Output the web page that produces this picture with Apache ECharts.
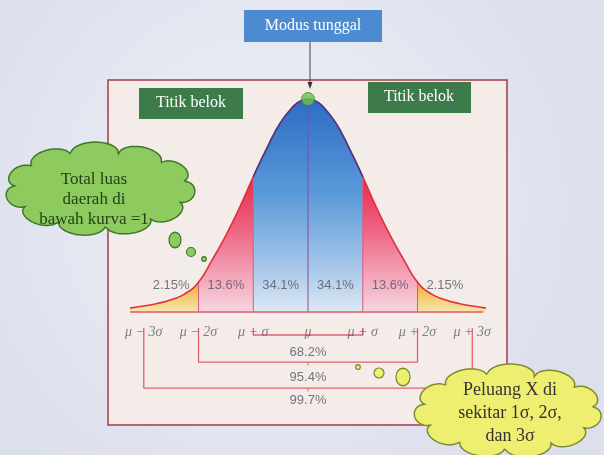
<!DOCTYPE html>
<html>
<head>
<meta charset="utf-8">
<script src="https://cdn.jsdelivr.net/npm/echarts@6/dist/echarts.min.js"></script>
<style>
  html, body { margin: 0; padding: 0; }
  #chart { width: 604px; height: 455px; }
</style>
</head>
<body>
<div id="chart"></div>
<script>
// curve heights (peak = 100), in units of sigma from the mean
const zs = [-3.25, -3, -2.75, -2.5, -2.25, -2, -1.75, -1.5, -1.25, -1, -0.75, -0.5, -0.25, -0.125, 0,
  0.125, 0.25, 0.5, 0.75, 1, 1.25, 1.5, 1.75, 2, 2.25, 2.5, 2.75, 3, 3.25];
const heights = [1.8, 2.8, 4, 5.8, 8.5, 14, 24.5, 36, 49, 63.5, 77, 89, 97, 99.2, 100,
  99.2, 97, 89, 77, 63.5, 49, 36, 24.5, 14, 8.5, 5.8, 4, 2.8, 1.8];

const sigmaTicks = [-3, -2, -1, 0, 1, 2, 3];
const tickLabels = ["μ − 3σ", "μ − 2σ", "μ − σ", "μ", "μ + σ", "μ + 2σ", "μ + 3σ"];
const regionLabels = ["2.15%", "13.6%", "34.1%", "34.1%", "13.6%", "2.15%"];
const bracketSigmas = [1, 2, 3];
const bracketLabels = ["68.2%", "95.4%", "99.7%"];
const axisSpan = [-3.25, 3.2];

// layout (data units on the y axis)
const regionLabelY = 12.7;
const tickLabelY = -9.4;
const bracketTop = -7.5;
const bracketLineY = [-10.8, -23.5, -35.7];
const bracketTextY = [-18.8, -30.5, -41.5];

const hAt = (z) => heights[zs.indexOf(z)];
const pts = zs.map((z, i) => [z, heights[i]]);
const seg = (a, b) => pts.filter((p) => p[0] >= a - 1e-9 && p[0] <= b + 1e-9);

const grad = (y0, y1, stops) => ({
  type: "linear", x: 0, y: y0, x2: 0, y2: y1, global: true,
  colorStops: stops.map((s) => ({ offset: s[0], color: s[1] })),
});
const blueFill = grad(99, 312, [[0, "#2c6cc6"], [0.45, "#5b9ad9"], [0.8, "#a9c9ea"], [1, "#dde8f4"]]);
const pinkFill = grad(172, 312, [[0, "#e6243f"], [0.4, "#ee6281"], [0.8, "#f4afc2"], [1, "#f7d6df"]]);
const yellowFill = grad(278, 312, [[0, "#f0a128"], [0.5, "#f4c565"], [1, "#f8e7b0"]]);

// scalloped outline for the thought clouds
function cloud(cx, cy, rx, ry, n, bump, phase) {
  const out = [];
  const N = 360;
  for (let i = 0; i < N; i++) {
    const t = phase + (2 * Math.PI * i) / N;
    const u = ((n * i) / N) % 1;
    const off = bump * Math.sqrt(Math.max(0, 1 - (2 * u - 1) * (2 * u - 1)));
    out.push([cx + (rx + off) * Math.cos(t), cy + (ry + off) * Math.sin(t)]);
  }
  return out;
}

const myChart = echarts.init(document.getElementById("chart"));
const serif = "'Liberation Serif', 'DejaVu Serif', serif";

const series = [];
[[-3.25, -2, yellowFill], [-2, -1, pinkFill], [-1, 1, blueFill], [1, 2, pinkFill], [2, 3.25, yellowFill]].forEach((s) => {
  series.push({
    type: "line", data: seg(s[0], s[1]), smooth: 0.5, symbol: "none", z: 2,
    lineStyle: { width: 0 }, areaStyle: { color: s[2], opacity: 1 },
  });
});
[-2, -1, 1, 2].forEach((b) => {
  series.push({
    type: "line", data: [[b, 0], [b, hAt(b)]], symbol: "none", z: 3,
    lineStyle: { color: "#cf5c86", width: 1 },
  });
});
series.push({
  type: "line", data: [[0, 0], [0, hAt(0)]], symbol: "none", z: 3,
  lineStyle: { color: "#8a4c9c", width: 1 },
});
series.push({
  type: "line", data: pts, smooth: 0.5, symbol: "none", z: 4,
  lineStyle: { color: "#e0303e", width: 1.6 },
});
series.push({
  type: "line", data: seg(-1, 1), smooth: 0.5, symbol: "none", z: 4,
  lineStyle: { color: "#3a3f8e", width: 1.6 },
});
series.push({
  type: "line", data: [[axisSpan[0], 0], [axisSpan[1], 0]], symbol: "none", z: 4,
  lineStyle: { color: "#e25a6a", width: 1.5 },
});
bracketSigmas.forEach((k, i) => {
  series.push({
    type: "line", symbol: "none", z: 4,
    data: [[-k, bracketTop], [-k, bracketLineY[i]], [k, bracketLineY[i]], [k, bracketTop]],
    lineStyle: { color: "#e2606e", width: 1.3 },
  });
  series.push({
    type: "line", symbol: "none", z: 4,
    data: [[0, bracketLineY[i]], [0, bracketLineY[i] - 1.6]],
    lineStyle: { color: "#e2606e", width: 1 },
  });
});
series.push({
  type: "scatter", symbolSize: 0, z: 5,
  data: tickLabels.map((t, i) => ({ value: [sigmaTicks[i], tickLabelY], name: t })),
  label: {
    show: true, position: "inside", formatter: "{b}",
    color: "#62626e", fontSize: 14, fontStyle: "italic", fontFamily: serif,
  },
});
series.push({
  type: "scatter", symbolSize: 0, z: 5,
  data: bracketLabels.map((t, i) => ({ value: [0, bracketTextY[i]], name: t })),
  label: {
    show: true, position: "inside", formatter: "{b}",
    color: "#555561", fontSize: 13, fontFamily: "Liberation Sans",
  },
});
series.push({
  type: "scatter", symbolSize: 0, z: 5,
  data: regionLabels.map((t, i) => ({ value: [(sigmaTicks[i] + sigmaTicks[i + 1]) / 2, regionLabelY], name: t })),
  label: {
    show: true, position: "inside", formatter: "{b}",
    color: "#555561", fontSize: 13, fontFamily: "Liberation Sans",
  },
});
series.push({
  type: "scatter", symbolSize: 13, z: 6, clip: false,
  data: [[0, hAt(0)]],
  itemStyle: { color: "#6cc24c", borderColor: "#3f8a2e", borderWidth: 1 },
});

const bubble = (cx, cy, r, sy, fill, stroke) => ({
  type: "circle", z: 100, x: cx, y: cy, scaleY: sy,
  shape: { cx: 0, cy: 0, r: r },
  style: { fill: fill, stroke: stroke, lineWidth: 1.2 },
});

const option = {
  animation: false,
  grid: { left: 116.4, right: 104.35, top: 77.7, bottom: 36.5 },
  xAxis: { type: "value", min: -3.5, max: 3.5, show: false },
  yAxis: { type: "value", min: -50, max: 110, show: false },
  graphic: [
    {
      type: "rect", z: -100, silent: true,
      shape: { x: 0, y: 0, width: 604, height: 455 },
      style: {
        fill: {
          type: "radial", x: 0.45, y: 0.45, r: 0.75,
          colorStops: [{ offset: 0, color: "#eff0f7" }, { offset: 1, color: "#dcdfec" }],
        },
      },
    },
    {
      type: "rect", z: -90, silent: true,
      shape: { x: 108, y: 80, width: 399, height: 345 },
      style: { fill: "#f3ece9", stroke: "#a33b4b", lineWidth: 1.5 },
    },
    {
      type: "rect", z: 10,
      shape: { x: 244, y: 10, width: 138, height: 32 },
      style: { fill: "#4d8bd0" },
    },
    {
      type: "text", z: 11, x: 313, y: 26,
      style: { text: "Modus tunggal", fill: "#fff", font: "16px " + serif, align: "center", verticalAlign: "middle" },
    },
    {
      type: "line", z: 10,
      shape: { x1: 310, y1: 42, x2: 310, y2: 86 },
      style: { stroke: "#444", lineWidth: 1 },
    },
    {
      type: "polygon", z: 10,
      shape: { points: [[307.5, 82], [312.5, 82], [310, 89]] },
      style: { fill: "#333" },
    },
    {
      type: "rect", z: 10,
      shape: { x: 139, y: 88, width: 104, height: 31 },
      style: { fill: "#3e7b4b" },
    },
    {
      type: "text", z: 11, x: 191, y: 103,
      style: { text: "Titik belok", fill: "#fff", font: "16px " + serif, align: "center", verticalAlign: "middle" },
    },
    {
      type: "rect", z: 10,
      shape: { x: 368, y: 82, width: 103, height: 31 },
      style: { fill: "#3e7b4b" },
    },
    {
      type: "text", z: 11, x: 419, y: 97,
      style: { text: "Titik belok", fill: "#fff", font: "16px " + serif, align: "center", verticalAlign: "middle" },
    },
    // green cloud
    {
      type: "polygon", z: 100,
      shape: { points: cloud(100, 189, 84, 36, 11, 11, -1.35) },
      style: { fill: "#8dcb5f", stroke: "#3f762b", lineWidth: 1.5 },
    },
    {
      type: "text", z: 101, x: 94, y: 200,
      style: {
        text: "Total luas\ndaerah di\nbawah kurva =1", fill: "#22401a", font: "17px " + serif,
        align: "center", verticalAlign: "middle", lineHeight: 20,
      },
    },
    bubble(175, 240, 6, 1.3, "#8dcb5f", "#3f762b"),
    bubble(191, 252, 4.5, 1, "#8dcb5f", "#3f762b"),
    bubble(204, 259, 2.3, 1, "#8dcb5f", "#3f762b"),
    // yellow cloud
    {
      type: "polygon", z: 100,
      shape: { points: cloud(508, 411, 83, 36, 11, 11, -1.25) },
      style: { fill: "#eeee70", stroke: "#7e8a30", lineWidth: 1.5 },
    },
    {
      type: "text", z: 101, x: 510, y: 413,
      style: {
        text: "Peluang X di\nsekitar 1σ, 2σ,\ndan 3σ", fill: "#333", font: "18px " + serif,
        align: "center", verticalAlign: "middle", lineHeight: 23,
      },
    },
    bubble(358, 367, 2.3, 1, "#eeee70", "#6f8a2a"),
    bubble(379, 373, 5, 1, "#eeee70", "#6f8a2a"),
    bubble(403, 377, 7, 1.25, "#eeee70", "#6f8a2a"),
  ],
  series: series,
};
myChart.setOption(option);
</script>
</body>
</html>
